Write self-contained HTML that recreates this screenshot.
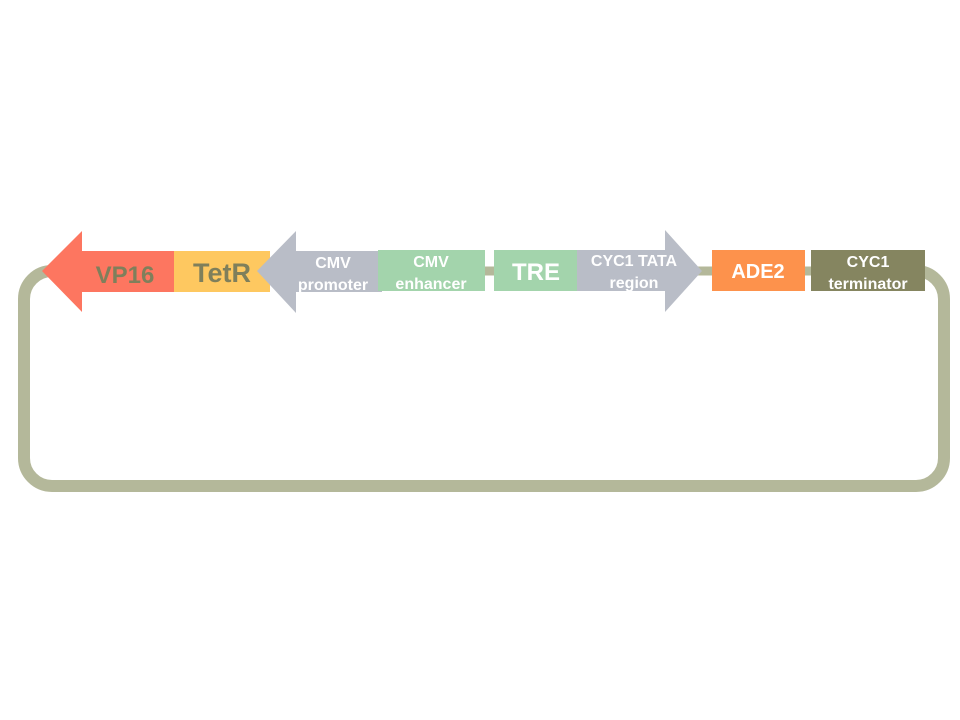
<!DOCTYPE html>
<html><head><meta charset="utf-8"><style>
body{margin:0;background:#fff;}
svg{display:block;font-family:"Liberation Sans",Arial,sans-serif;font-weight:bold;}
</style></head><body>
<svg width="960" height="720" viewBox="0 0 960 720">
<path d="M50,271 L52,271 A28,28 0 0 0 24,299 L24,458 A28,28 0 0 0 52,486 L916,486 A28,28 0 0 0 944,458 L944,299 A28,28 0 0 0 916,271 L900,271" fill="none" stroke="#b4b89a" stroke-width="12"/>
<line x1="380" y1="271" x2="920" y2="271" stroke="#b4b89a" stroke-width="9"/>
<polygon points="42,271 82,231 82,251 176,251 176,292 82,292 82,312" fill="#fd7660"/>
<text x="125" y="283" font-size="24" fill="#7f7f5b" text-anchor="middle">VP16</text>
<rect x="174" y="251" width="96" height="41" fill="#fec860"/>
<text x="222" y="282" font-size="27" fill="#7f7f5b" text-anchor="middle">TetR</text>
<polygon points="257,271 296,231 296,251 382,251 382,292 296,292 296,313" fill="#b9bdc7"/>
<text x="333" y="268" font-size="16" fill="#fff" text-anchor="middle">CMV</text>
<text x="333" y="290" font-size="16" fill="#fff" text-anchor="middle">promoter</text>
<rect x="378" y="250" width="107" height="41" fill="#a3d4ac"/>
<text x="431" y="267" font-size="16" fill="#fff" text-anchor="middle">CMV</text>
<text x="431" y="289" font-size="16" fill="#fff" text-anchor="middle">enhancer</text>
<rect x="494" y="250" width="84" height="41" fill="#a3d4ac"/>
<text x="536" y="280" font-size="24" fill="#fff" text-anchor="middle">TRE</text>
<polygon points="577,250 665,250 665,230 702,271 665,312 665,291 577,291" fill="#b9bdc7"/>
<text x="634" y="266" font-size="16" fill="#fff" text-anchor="middle">CYC1 TATA</text>
<text x="634" y="288" font-size="16" fill="#fff" text-anchor="middle">region</text>
<rect x="712" y="250" width="93" height="41" fill="#fd924c"/>
<text x="758" y="278" font-size="20" fill="#fff" text-anchor="middle">ADE2</text>
<rect x="811" y="250" width="114" height="41" fill="#858560"/>
<text x="868" y="267" font-size="16" fill="#fff" text-anchor="middle">CYC1</text>
<text x="868" y="289" font-size="16" fill="#fff" text-anchor="middle">terminator</text>
</svg>
</body></html>
